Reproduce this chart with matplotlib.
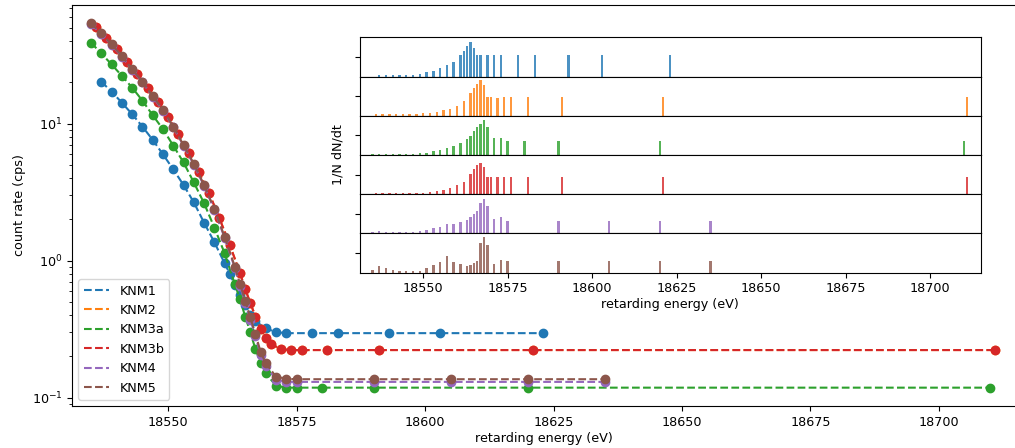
import numpy as np
import matplotlib.pyplot as plt

plt.rcParams['font.size'] = 9.2

campaigns = ['KNM1', 'KNM2', 'KNM3a', 'KNM3b', 'KNM4', 'KNM5']
colors = ['tab:blue', 'tab:orange', 'tab:green', 'tab:red', 'tab:purple', 'tab:brown']

# retarding energies (eV)
qu_knm1 = [18537, 18539, 18541, 18543, 18545, 18547, 18549, 18551, 18553, 18555, 18557, 18559, 18561,
           18562, 18563, 18564, 18565, 18566, 18567, 18569, 18571, 18573, 18578, 18583, 18593, 18603, 18623]
qu_knm2 = [18536, 18538, 18540, 18542, 18544, 18546, 18548, 18550, 18552, 18554, 18556, 18558, 18560, 18562,
           18564, 18565, 18566, 18567, 18568, 18569, 18570, 18572, 18574, 18576, 18581, 18591, 18621, 18711]
qu_knm3a = [18535, 18537, 18539, 18541, 18543, 18545, 18547, 18549, 18551, 18553, 18555, 18557, 18559, 18561,
            18563, 18564, 18565, 18566, 18567, 18568, 18569, 18571, 18573, 18575, 18580, 18590, 18620, 18710]
qu_knm3b = qu_knm2
qu_knm4 = [18535, 18537, 18539, 18541, 18543, 18545, 18547, 18549, 18551, 18553, 18555, 18557, 18559, 18561,
           18563, 18564, 18565, 18566, 18567, 18568, 18569, 18571, 18573, 18575, 18590, 18605, 18620, 18635]
qu_knm5 = qu_knm4

# count rates (cps)
rate_knm1 = [20.2, 17.1, 14.2, 11.7, 9.5, 7.6, 5.96, 4.63, 3.56, 2.66, 1.89, 1.36, 0.955,
             0.80, 0.66, 0.56, 0.475, 0.40, 0.36, 0.32, 0.30, 0.295, 0.295, 0.295, 0.295, 0.295, 0.295]
rate_knm2 = [50.3, 41.9, 34.8, 28.0, 22.9, 18.2, 14.3, 11.1, 8.4, 6.1, 4.4, 3.09, 2.03, 1.30,
             0.81, 0.62, 0.49, 0.39, 0.315, 0.27, 0.246, 0.225, 0.222, 0.222, 0.222, 0.222, 0.222, 0.222]
rate_knm3a = [38.9, 32.5, 27.0, 22.3, 18.3, 14.7, 11.5, 9.1, 6.9, 5.2, 3.72, 2.62, 1.74, 1.13,
              0.67, 0.52, 0.39, 0.30, 0.225, 0.18, 0.15, 0.122, 0.118, 0.118, 0.118, 0.118, 0.118, 0.118]
rate_knm3b = [50.3, 41.9, 34.8, 28.0, 22.9, 18.2, 14.3, 11.1, 8.4, 6.1, 4.4, 3.09, 2.03, 1.30,
              0.81, 0.62, 0.49, 0.39, 0.315, 0.27, 0.246, 0.225, 0.222, 0.222, 0.222, 0.222, 0.222, 0.222]
rate_knm4 = [53.0, 45.0, 37.5, 30.8, 24.6, 20.0, 15.7, 12.4, 9.4, 6.9, 5.0, 3.5, 2.35, 1.46,
             0.88, 0.65, 0.49, 0.37, 0.28, 0.205, 0.17, 0.135, 0.13, 0.13, 0.13, 0.13, 0.13, 0.13]
rate_knm5 = [53.8, 45.5, 37.8, 31.1, 24.9, 20.2, 15.9, 12.6, 9.5, 6.97, 5.1, 3.56, 2.38, 1.49,
             0.90, 0.67, 0.51, 0.385, 0.29, 0.216, 0.178, 0.142, 0.137, 0.136, 0.136, 0.136, 0.136, 0.136]

# relative measurement time per scan step
time_knm1 = [0.05, 0.05, 0.05, 0.05, 0.05, 0.04, 0.07, 0.11, 0.15, 0.21, 0.29, 0.37, 0.56,
             0.66, 0.77, 0.89, 0.72, 0.55, 0.55, 0.55, 0.55, 0.55, 0.55, 0.55, 0.55, 0.55, 0.55]
time_knm2 = [0.04, 0.04, 0.04, 0.04, 0.04, 0.04, 0.04, 0.06, 0.07, 0.09, 0.14, 0.18, 0.25, 0.37,
             0.59, 0.72, 0.82, 0.90, 0.78, 0.49, 0.49, 0.46, 0.49, 0.49, 0.49, 0.49, 0.49, 0.49]
time_knm3a = [0.03, 0.03, 0.03, 0.03, 0.03, 0.03, 0.03, 0.04, 0.06, 0.10, 0.13, 0.17, 0.23, 0.31,
              0.41, 0.49, 0.61, 0.71, 0.80, 0.90, 0.71, 0.44, 0.44, 0.36, 0.36, 0.36, 0.36, 0.36]
time_knm3b = [0.03, 0.03, 0.03, 0.03, 0.03, 0.03, 0.03, 0.04, 0.05, 0.08, 0.11, 0.16, 0.23, 0.32,
              0.52, 0.65, 0.74, 0.80, 0.69, 0.45, 0.45, 0.45, 0.45, 0.45, 0.45, 0.45, 0.45, 0.45]
time_knm4 = [0.03, 0.07, 0.04, 0.04, 0.03, 0.04, 0.03, 0.06, 0.08, 0.13, 0.17, 0.24, 0.24, 0.30,
             0.34, 0.41, 0.49, 0.58, 0.78, 0.89, 0.69, 0.37, 0.42, 0.33, 0.33, 0.33, 0.33, 0.33]
time_knm5 = [0.06, 0.17, 0.12, 0.08, 0.04, 0.04, 0.04, 0.05, 0.13, 0.19, 0.26, 0.43, 0.26, 0.22,
             0.16, 0.20, 0.25, 0.31, 0.76, 0.90, 0.70, 0.21, 0.33, 0.30, 0.31, 0.31, 0.31, 0.31]

qus = [qu_knm1, qu_knm2, qu_knm3a, qu_knm3b, qu_knm4, qu_knm5]
rates = [rate_knm1, rate_knm2, rate_knm3a, rate_knm3b, rate_knm4, rate_knm5]
times = [time_knm1, time_knm2, time_knm3a, time_knm3b, time_knm4, time_knm5]

xticks = [18550, 18575, 18600, 18625, 18650, 18675, 18700]
xlim = (18531.3, 18715.0)

W, H = 1015, 448
fig = plt.figure(figsize=(W / 100, H / 100), dpi=100)

# count rate spectra
ax = fig.add_axes([72 / W, (H - 406) / H, 944 / W, 401 / H])
for name, c, x, y in zip(campaigns, colors, qus, rates):
    ax.plot(x, y, '--', color=c, lw=1.5, label=name)
    ax.plot(x, y, 'o', color=c, ms=6)
ax.set_yscale('log')
ax.set_xlim(xlim)
ax.set_ylim(0.0867, 73.3)
ax.set_xticks(xticks)
ax.set_xlabel('retarding energy (eV)', labelpad=2)
ax.set_ylabel('count rate (cps)')
ax.legend(loc='lower left')

# measurement time distributions
gs = fig.add_gridspec(6, 1, left=360 / W, right=980.7 / W,
                      bottom=(H - 272.7) / H, top=(H - 37.3) / H, hspace=0)
axs = gs.subplots(sharex=True)
for a, c, x, t in zip(axs, colors, qus, times):
    a.bar(x, t, width=0.7, color=c, alpha=0.8)
    a.set_ylim(0, 1)
    a.set_yticks([0.5])
    a.set_yticklabels([''])
    a.set_zorder(3)
axs[-1].set_xlim(xlim)
axs[-1].set_xticks(xticks)
axs[-1].set_xlabel('retarding energy (eV)', labelpad=2)
fig.text(338 / W, 1 - 155 / H, '1/N dN/dt', rotation=90, ha='center', va='center')

fig.savefig('out.png', dpi=100)
